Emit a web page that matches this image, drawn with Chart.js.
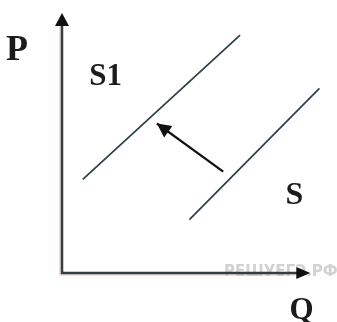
<!DOCTYPE html>
<html>
<head>
<meta charset="utf-8">
<script src="https://cdn.jsdelivr.net/npm/chart.js@4"></script>
<style>
  body { margin: 0; background: #fff; }
  #box { width: 337px; height: 322px; }
</style>
</head>
<body>
<div id="box"><canvas id="graph" width="337" height="322"></canvas></div>
<script>
// supply curves, in Q / P units (axes run 0..10)
const supplyOld = [{ x: 4.9, y: 2.05 }, { x: 9.9, y: 7.1 }];
const supplyNew = [{ x: 0.8, y: 3.6 }, { x: 6.85, y: 9.15 }];
const shiftArrow = [{ x: 6.2, y: 3.9 }, { x: 3.65, y: 5.75 }];
const axisEnds = { q: 9.55, p: 10 };
const curveLabels = ['S', 'S1'];
const axisLabels = ['P', 'Q'];
const watermark = 'РЕШУЕГЭ.РФ';

const lineColor = '#2c3f46';

const drawHead = (ctx, x1, y1, x2, y2, len, half) => {
    const a = Math.atan2(y2 - y1, x2 - x1);
    ctx.beginPath();
    ctx.moveTo(x2, y2);
    ctx.lineTo(x2 - len * Math.cos(a) + half * Math.sin(a), y2 - len * Math.sin(a) - half * Math.cos(a));
    ctx.lineTo(x2 - len * Math.cos(a) - half * Math.sin(a), y2 - len * Math.sin(a) + half * Math.cos(a));
    ctx.closePath();
    ctx.fill();
}

const extras = {
    id: 'extras',
    beforeDatasetsDraw(chart) {
        const { ctx, scales: { x, y } } = chart;
        const ox = x.getPixelForValue(0), oy = y.getPixelForValue(0);
        const qx = x.getPixelForValue(axisEnds.q), py = y.getPixelForValue(axisEnds.p);

        ctx.save();
        ctx.fillStyle = '#d2d2d2';
        ctx.font = 'bold 15px "DejaVu Sans"';
        ctx.textBaseline = 'alphabetic';
        ctx.fillText(watermark, 224, 276);

        // salmon fringe like the scan
        ctx.strokeStyle = 'rgba(246, 170, 140, 0.7)';
        ctx.lineWidth = 1.2;
        ctx.beginPath();
        ctx.moveTo(ox - 2, py + 12);
        ctx.lineTo(ox - 2, oy + 2);
        ctx.lineTo(qx - 12, oy + 2);
        ctx.stroke();

        ctx.strokeStyle = lineColor;
        ctx.fillStyle = '#111';
        ctx.lineWidth = 2.5;
        ctx.beginPath();
        ctx.moveTo(ox, py + 10);
        ctx.lineTo(ox, oy);
        ctx.lineTo(qx - 10, oy);
        ctx.stroke();
        drawHead(ctx, ox, oy, ox, py, 13, 7);
        drawHead(ctx, ox, oy, qx, oy, 14, 6);
        ctx.restore();
    },
    afterDatasetsDraw(chart) {
        const { ctx, scales: { x, y } } = chart;
        const ds = chart.data.datasets[2].data;
        const x1 = x.getPixelForValue(ds[0].x), y1 = y.getPixelForValue(ds[0].y);
        const x2 = x.getPixelForValue(ds[1].x), y2 = y.getPixelForValue(ds[1].y);

        ctx.save();
        ctx.fillStyle = '#111';
        drawHead(ctx, x1, y1, x2, y2, 14, 7);

        ctx.fillStyle = '#1b1b1b';
        ctx.font = 'bold 36px "Liberation Serif"';
        ctx.textBaseline = 'alphabetic';
        ctx.fillText(axisLabels[0], x.getPixelForValue(-2.15), y.getPixelForValue(8.2));
        ctx.font = 'bold 31px "Liberation Serif"';
        ctx.fillText(axisLabels[1], x.getPixelForValue(8.75), y.getPixelForValue(-1.75));
        ctx.font = 'bold 32px "Liberation Serif"';
        ctx.fillText(curveLabels[0], x.getPixelForValue(8.6), y.getPixelForValue(2.65));
        ctx.font = 'bold 31px "Liberation Serif"';
        ctx.fillText(curveLabels[1], x.getPixelForValue(1.05), y.getPixelForValue(7.25));
        ctx.restore();
    }
}

new Chart(document.getElementById('graph'), {
    type: 'scatter',
    data: {
        datasets: [
            { label: curveLabels[0], data: supplyOld, showLine: true, borderColor: lineColor, borderWidth: 1.7, pointRadius: 0 },
            { label: curveLabels[1], data: supplyNew, showLine: true, borderColor: lineColor, borderWidth: 1.7, pointRadius: 0 },
            { label: 'shift', data: shiftArrow, showLine: true, borderColor: '#111', borderWidth: 2.2, pointRadius: 0 }
        ]
    },
    options: {
        responsive: false,
        animation: false,
        layout: { padding: { left: 62, top: 13, right: 15, bottom: 49 } },
        plugins: { legend: { display: false }, tooltip: { enabled: false } },
        scales: {
            x: { type: 'linear', min: 0, max: 10, display: false },
            y: { type: 'linear', min: 0, max: 10, display: false }
        }
    },
    plugins: [extras]
});
</script>
</body>
</html>
